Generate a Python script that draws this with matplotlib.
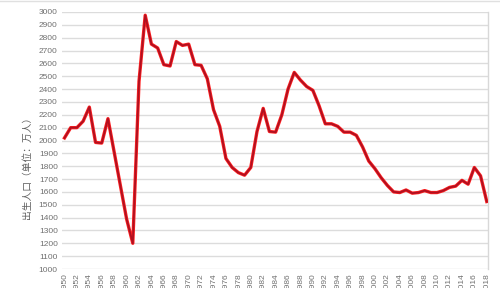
"""China annual births 1950-2018 (ten thousands)."""

import matplotlib
matplotlib.use('Agg')
import matplotlib.pyplot as plt
from matplotlib.lines import Line2D

years = list(range(1950, 2019))
births = [
    2020, 2100, 2100, 2150, 2260, 1985, 1980, 2170, 1910, 1650,
    1390, 1200, 2460, 2975, 2750, 2720, 2590, 2580, 2770, 2740,
    2750, 2590, 2585, 2480, 2240, 2110, 1860, 1790, 1750, 1730,
    1790, 2070, 2250, 2070, 2065, 2200, 2400, 2530, 2470, 2420,
    2390, 2270, 2130, 2130, 2110, 2065, 2065, 2040, 1950, 1840,
    1780, 1710, 1650, 1600, 1595, 1615, 1590, 1595, 1610, 1595,
    1595, 1610, 1635, 1645, 1690, 1660, 1790, 1725, 1525,
]
x_ticks = list(range(1950, 2019, 2))
y_ticks = list(range(1000, 3001, 100))
y_label = '出生人口（单位：万人）'

fig = plt.figure(figsize=(5.0, 2.88), dpi=100)
ax = fig.add_axes([62 / 500, 1 - 269 / 288, 426 / 500, 257 / 288])

ax.plot(years, births, color='#ff2020', lw=2.4, solid_joinstyle='round', zorder=3)
ax.plot(years, births, color='#b01020', lw=1.3, solid_joinstyle='round', zorder=4)

ax.set_xlim(1949.6, 2018.2)
ax.set_ylim(1000, 3000)
ax.set_yticks(y_ticks)
ax.set_xticks(x_ticks)
ax.set_xticklabels([str(y) for y in x_ticks], rotation=90, va='top')
ax.tick_params(axis='both', length=0, labelsize=6, labelcolor='#707070',
               pad=3)
for lab in ax.get_xticklabels() + ax.get_yticklabels():
    lab.set_family(['Liberation Sans', 'DejaVu Sans'])

ax.grid(axis='y', color='#dcdcdc', lw=1.0)
ax.set_axisbelow(True)
for side in ('top', 'left', 'bottom'):
    ax.spines[side].set_visible(False)
ax.spines['right'].set_color('#d8d8d8')
ax.spines['right'].set_linewidth(1.0)

fig.text(27 / 500, 1 - 165 / 288, y_label, rotation=90, ha='center',
         va='center', fontsize=7, color='#606060',
         family=['Noto Sans CJK SC', 'DejaVu Sans'])

fig.add_artist(Line2D([0, 1], [0.998, 0.998], color='#e0e0e0', lw=1.0,
                      transform=fig.transFigure))

fig.savefig('out.png', dpi=100)
